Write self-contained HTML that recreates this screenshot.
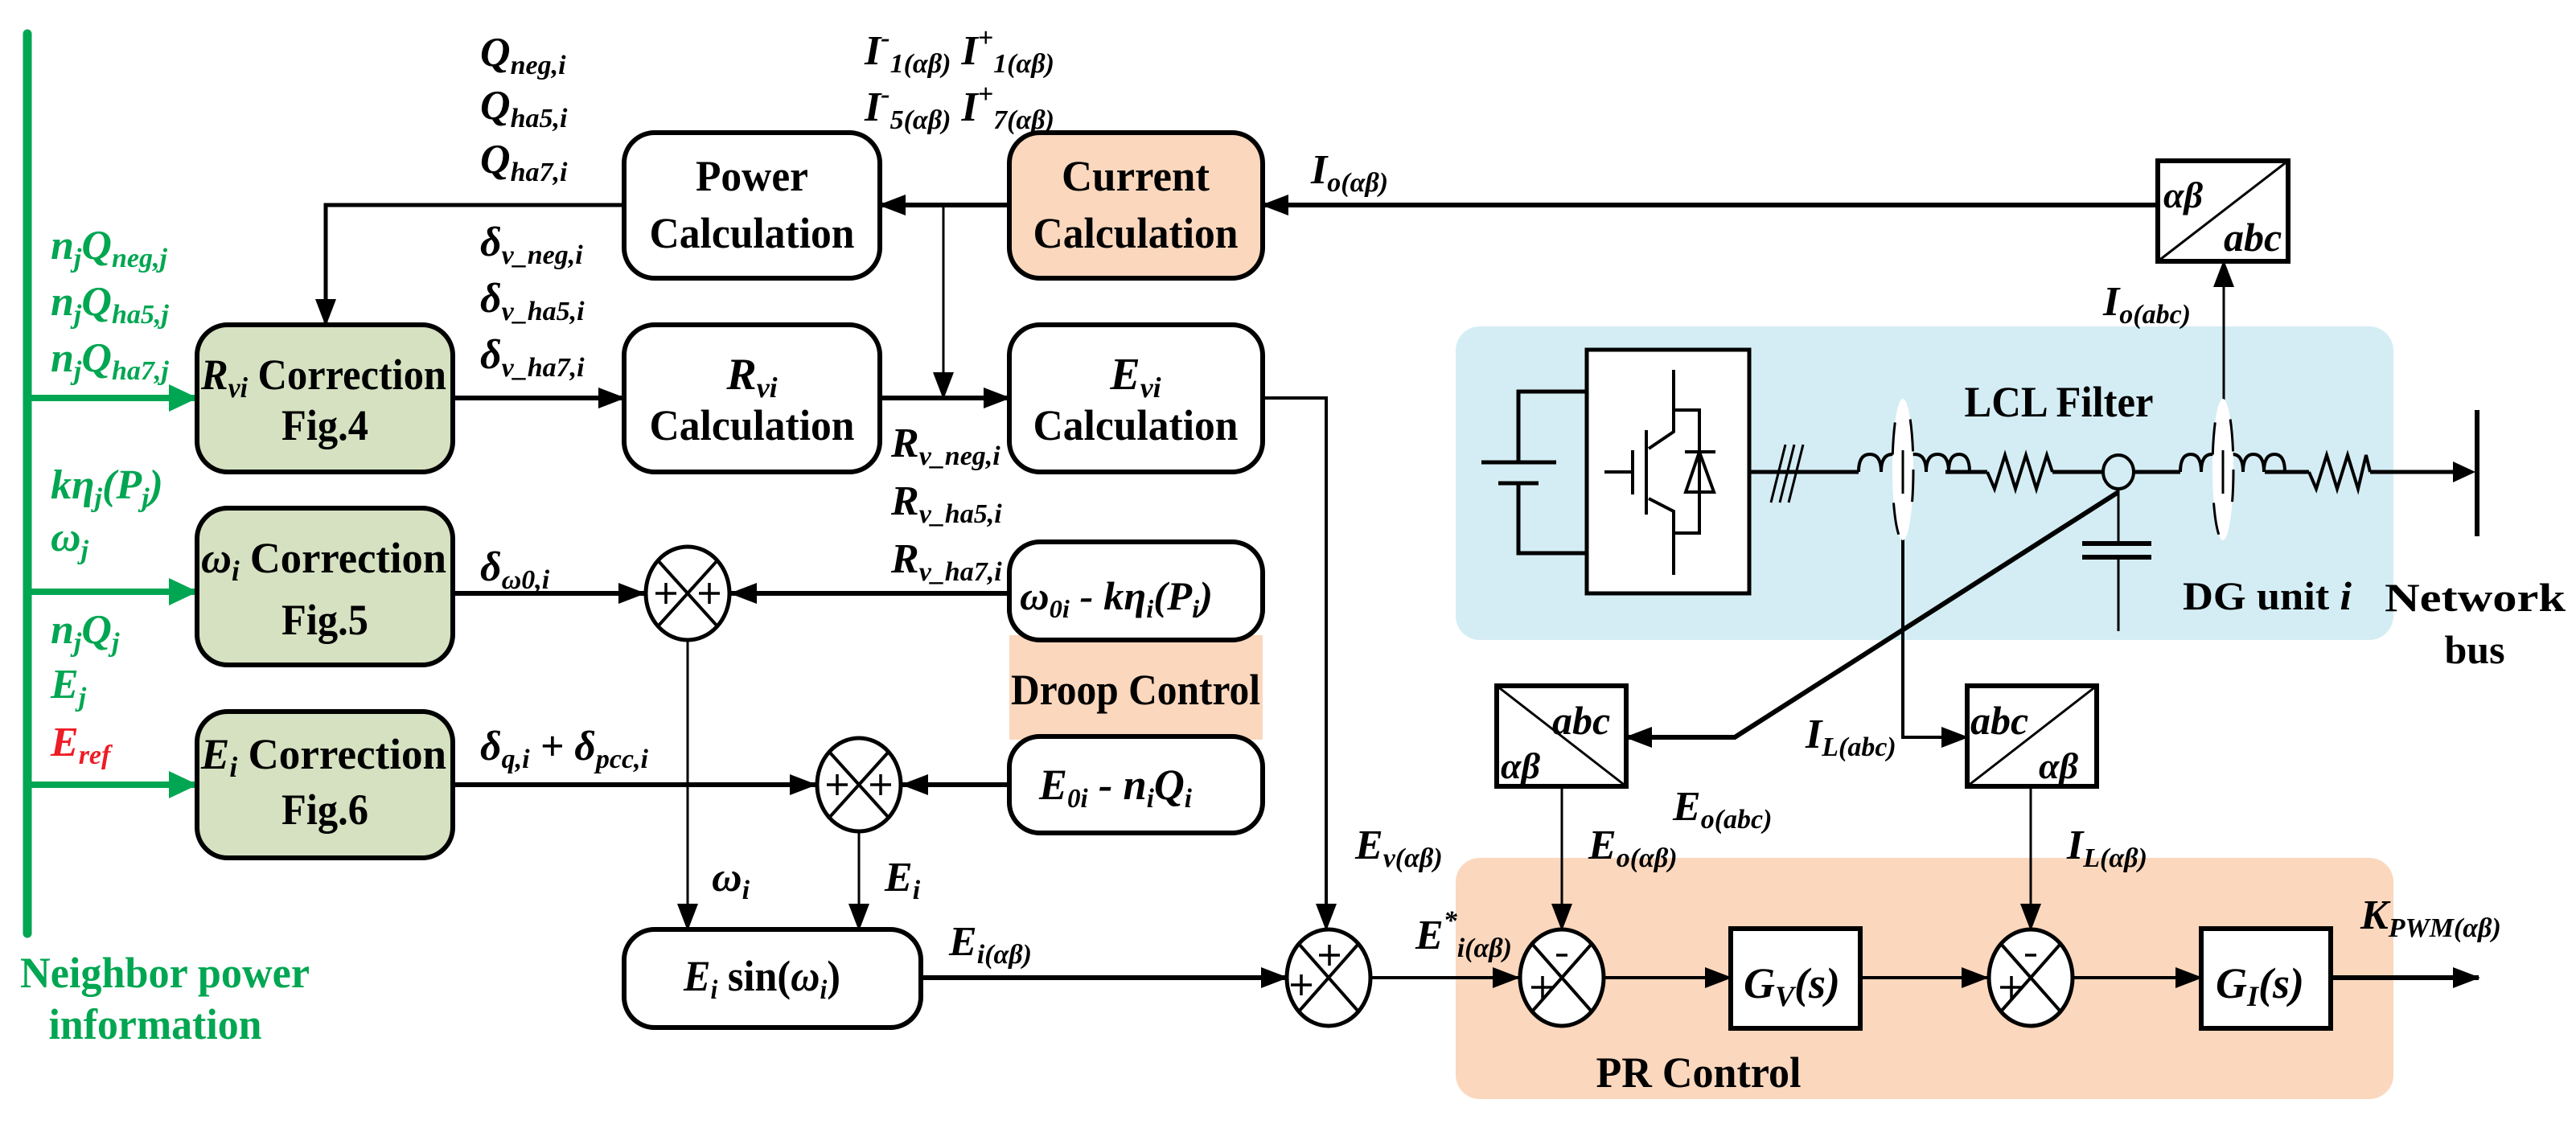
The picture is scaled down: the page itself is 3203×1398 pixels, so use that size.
<!DOCTYPE html>
<html><head><meta charset="utf-8"><style>
html,body{margin:0;padding:0;background:#fff}
svg{display:block;font-family:"Liberation Serif","DejaVu Serif",serif}
text{font-family:"Liberation Serif","DejaVu Serif",serif;font-weight:bold}
.m{font-style:italic;font-size:52px}
.b{font-size:54px}
.g{fill:#00a651;font-style:italic;font-size:52px}
</style></head><body>
<svg width="3203" height="1398" viewBox="0 0 3203 1398" xmlns="http://www.w3.org/2000/svg" font-family="Liberation Serif, DejaVu Serif, serif">
<defs>
<marker id="a" markerUnits="userSpaceOnUse" markerWidth="34" markerHeight="26" refX="32" refY="13" orient="auto"><path d="M0,0 L34,13 L0,26 Z" fill="#000"/></marker>
<marker id="ga" markerUnits="userSpaceOnUse" markerWidth="36" markerHeight="34" refX="34" refY="17" orient="auto"><path d="M0,0 L36,17 L0,34 Z" fill="#00a651"/></marker>
</defs>

<rect x="1810" y="406" width="1166" height="390" rx="30" fill="#d4edf4"/>
<rect x="1810" y="1067" width="1166" height="300" rx="30" fill="#fbd7bd"/>
<rect x="1255" y="790" width="315" height="130" fill="#fbd7bd"/>

<line x1="34" y1="42" x2="34" y2="1161" stroke="#00a651" stroke-width="11" stroke-linecap="round"/>
<g stroke="#00a651" stroke-width="8" marker-end="url(#ga)">
<line x1="34" y1="495" x2="244" y2="495"/>
<line x1="34" y1="736" x2="244" y2="736"/>
<line x1="34" y1="976" x2="244" y2="976"/>
</g>

<g stroke="#000" stroke-width="6">
<rect x="245" y="404" width="318" height="183" rx="38" fill="#d5e1c1"/>
<rect x="245" y="632" width="318" height="195" rx="38" fill="#d5e1c1"/>
<rect x="245" y="885" width="318" height="182" rx="38" fill="#d5e1c1"/>
<rect x="776" y="165" width="318" height="181" rx="38" fill="#fff"/>
<rect x="1255" y="165" width="315" height="181" rx="38" fill="#fbd7bd"/>
<rect x="776" y="404" width="318" height="183" rx="38" fill="#fff"/>
<rect x="1255" y="404" width="315" height="183" rx="38" fill="#fff"/>
<rect x="1255" y="674" width="315" height="122" rx="38" fill="#fff"/>
<rect x="1255" y="916" width="315" height="120" rx="38" fill="#fff"/>
<rect x="776" y="1156" width="369" height="122" rx="38" fill="#fff"/>
<rect x="2152" y="1155" width="161" height="124" fill="#fff"/>
<rect x="2737" y="1155" width="161" height="124" fill="#fff"/>
<rect x="2683" y="200" width="162" height="125" fill="#fff"/>
<rect x="1861" y="853" width="161" height="125" fill="#fff"/>
<rect x="2446" y="853" width="161" height="125" fill="#fff"/>
<rect x="1973" y="435" width="202" height="303" fill="#fff" stroke-width="5"/>
</g>
<g stroke="#000" stroke-width="3">
<line x1="2683" y1="325" x2="2845" y2="200"/>
<line x1="1861" y1="853" x2="2022" y2="978"/>
<line x1="2446" y1="978" x2="2607" y2="853"/>
</g>

<g stroke="#000" stroke-width="6" fill="none" marker-end="url(#a)">
<line x1="1255" y1="255" x2="1094" y2="255"/>
<line x1="2683" y1="255" x2="1570" y2="255"/>
<line x1="563" y1="495" x2="776" y2="495"/>
<line x1="1094" y1="495" x2="1255" y2="495"/>
<line x1="563" y1="738" x2="801" y2="738"/>
<line x1="1255" y1="738" x2="909" y2="738"/>
<line x1="563" y1="976" x2="1014" y2="976"/>
<line x1="1255" y1="976" x2="1122" y2="976"/>
<line x1="1145" y1="1216" x2="1600" y2="1216"/>
<line x1="2898" y1="1216" x2="3082" y2="1216"/>
<polyline points="2634,612 2157,917 2022,917"/>
<polyline points="2366,670 2366,917 2446,917" stroke-width="4"/>
</g>
<g stroke="#000" stroke-width="4" fill="none" marker-end="url(#a)">
<line x1="1704" y1="1216" x2="1888" y2="1216"/>
<line x1="1996" y1="1216" x2="2152" y2="1216"/>
<line x1="2313" y1="1216" x2="2471" y2="1216"/>
<line x1="2579" y1="1216" x2="2737" y2="1216"/>
</g>
<g stroke="#000" stroke-width="3" fill="none" marker-end="url(#a)">
<polyline points="776,255 405,255 405,404" stroke-width="5"/>
<line x1="1173" y1="255" x2="1173" y2="495"/>
<polyline points="1570,495 1649,495 1649,1156" stroke-width="4"/>
<line x1="2765" y1="497" x2="2765" y2="325"/>
<line x1="855" y1="798" x2="855" y2="1156"/>
<line x1="1068" y1="1036" x2="1068" y2="1156"/>
<line x1="1942" y1="978" x2="1942" y2="1156"/>
<line x1="2525" y1="978" x2="2525" y2="1156"/>
</g>

<g stroke="#000" stroke-width="5" fill="#fff">
<ellipse cx="855" cy="738" rx="52" ry="58"/>
<ellipse cx="1068" cy="976" rx="52" ry="58"/>
<ellipse cx="1652" cy="1216" rx="52" ry="60"/>
<ellipse cx="1942" cy="1216" rx="52" ry="60"/>
<ellipse cx="2525" cy="1216" rx="52" ry="60"/>
</g>
<g stroke="#000" stroke-width="4">
<path d="M818,697 L892,779 M892,697 L818,779"/>
<path d="M1031,935 L1105,1017 M1105,935 L1031,1017"/>
<path d="M1615,1174 L1689,1258 M1689,1174 L1615,1258"/>
<path d="M1905,1174 L1979,1258 M1979,1174 L1905,1258"/>
<path d="M2488,1174 L2562,1258 M2562,1174 L2488,1258"/>
</g>
<g stroke="#000" stroke-width="3.5">
<path d="M815,738 h26 M828,725 v26 M869,738 h26 M882,725 v26"/>
<path d="M1028,976 h26 M1041,963 v26 M1082,976 h26 M1095,963 v26"/>
<path d="M1640,1188 h26 M1653,1175 v26 M1605,1225 h26 M1618,1212 v26"/>
<path d="M1904,1228 h28 M1918,1214 v28 M1935,1188 h14"/>
<path d="M2487,1228 h28 M2501,1214 v28 M2518,1188 h14"/>
</g>

<g stroke="#000" stroke-width="5" fill="none">
<polyline points="1973,487 1888,487 1888,575"/>
<polyline points="1973,688 1888,688 1888,601"/>
<line x1="1842" y1="575" x2="1935" y2="575"/>
<line x1="1863" y1="601" x2="1913" y2="601"/>
<g stroke-width="4">
<polyline points="2081,460 2081,537 2050,558"/>
<line x1="2047" y1="535" x2="2047" y2="640"/>
<line x1="2030" y1="560" x2="2030" y2="615"/>
<line x1="1995" y1="587" x2="2030" y2="587"/>
<polyline points="2050,620 2081,636 2081,715"/>
<polyline points="2081,510 2113,510 2113,663 2081,663"/>
<line x1="2095" y1="562" x2="2133" y2="562"/>
<polygon points="2113,562 2096,612 2131,612"/>
</g>
<line x1="2175" y1="587" x2="2311" y2="587"/>
<g stroke-width="3"><line x1="2202" y1="625" x2="2220" y2="553"/><line x1="2213" y1="625" x2="2231" y2="553"/><line x1="2224" y1="625" x2="2242" y2="553"/></g>
<path d="M2311,587 q0,-22 14,-22 q14,0 14,22 q0,-22 14,-22 q14,0 14,22 q0,-22 14,-22 q14,0 14,22 q0,-22 14,-22 q14,0 14,22 q0,-22 13,-22 q13,0 13,22" stroke-width="4"/>
<line x1="2419" y1="587" x2="2471" y2="587"/>
<polyline points="2471,587 2480,608 2493,566 2506,608 2519,566 2532,608 2545,566 2552,587" stroke-width="4"/>
<line x1="2552" y1="587" x2="2615" y2="587"/>
<line x1="2653" y1="587" x2="2711" y2="587"/>
<path d="M2711,587 q0,-22 13,-22 q13,0 13,22 q0,-22 13,-22 q13,0 13,22 q0,-22 13,-22 q13,0 13,22 q0,-22 13,-22 q13,0 13,22 q0,-22 13,-22 q13,0 13,22" stroke-width="4"/>
<line x1="2816" y1="587" x2="2871" y2="587"/>
<polyline points="2871,587 2880,608 2893,566 2906,608 2919,566 2932,608 2942,566 2947,587" stroke-width="4"/>
<line x1="2947" y1="587" x2="3050" y2="587"/>
<ellipse cx="2634" cy="587" rx="19" ry="21" stroke-width="4"/>
<line x1="2634" y1="608" x2="2634" y2="676" stroke-width="3"/>
<line x1="2634" y1="693" x2="2634" y2="785" stroke-width="3"/>
<line x1="2589" y1="676" x2="2675" y2="676" stroke-width="6"/>
<line x1="2589" y1="693" x2="2675" y2="693" stroke-width="6"/>
<line x1="3080" y1="510" x2="3080" y2="667" stroke-width="6"/>
</g>
<path d="M3050,574 L3078,587 L3050,600 Z" fill="#000"/>
<ellipse cx="2366" cy="584" rx="13" ry="88" fill="#fff" stroke="#000" stroke-width="3" stroke-dasharray="40,60"/>
<ellipse cx="2764" cy="584" rx="13" ry="88" fill="#fff" stroke="#000" stroke-width="3" stroke-dasharray="40,60"/>
<line x1="2366" y1="560" x2="2366" y2="614" stroke="#000" stroke-width="3"/>
<line x1="2764" y1="560" x2="2764" y2="614" stroke="#000" stroke-width="3"/>

<g text-anchor="middle">
<text x="935" y="237" class="b" textLength="140" lengthAdjust="spacingAndGlyphs">Power</text>
<text x="935" y="308" class="b" textLength="255" lengthAdjust="spacingAndGlyphs">Calculation</text>
<text x="1412" y="237" class="b" textLength="184" lengthAdjust="spacingAndGlyphs">Current</text>
<text x="1412" y="308" class="b" textLength="255" lengthAdjust="spacingAndGlyphs">Calculation</text>
<text x="935" y="547" class="b" textLength="255" lengthAdjust="spacingAndGlyphs">Calculation</text>
<text x="1412" y="547" class="b" textLength="255" lengthAdjust="spacingAndGlyphs">Calculation</text>
<text x="404" y="547" class="b" textLength="108" lengthAdjust="spacingAndGlyphs">Fig.4</text>
<text x="404" y="789" class="b" textLength="108" lengthAdjust="spacingAndGlyphs">Fig.5</text>
<text x="404" y="1025" class="b" textLength="108" lengthAdjust="spacingAndGlyphs">Fig.6</text>
<text x="1412" y="876" class="b" textLength="310" lengthAdjust="spacingAndGlyphs">Droop Control</text>
<text x="2560" y="518" class="b" font-size="48" textLength="235" lengthAdjust="spacingAndGlyphs">LCL Filter</text>
<text x="2112" y="1352" class="b" font-size="50" textLength="255" lengthAdjust="spacingAndGlyphs">PR Control</text>
<text x="3077" y="825" font-size="50">bus</text>
</g>
<text x="2965" y="760" font-size="50" textLength="225" lengthAdjust="spacingAndGlyphs">Network</text>
<text x="2714" y="758" font-size="50" textLength="210" lengthAdjust="spacingAndGlyphs">DG unit <tspan font-style="italic">i</tspan></text>
<text x="935" y="484" text-anchor="middle" font-style="italic" font-size="56"><tspan>R</tspan><tspan font-size="36" dy="10">vi</tspan></text>
<text x="1412" y="484" text-anchor="middle" font-style="italic" font-size="56"><tspan>E</tspan><tspan font-size="36" dy="10">vi</tspan></text>
<text x="250" y="484" font-size="54" textLength="305" lengthAdjust="spacingAndGlyphs"><tspan font-style="italic">R</tspan><tspan font-style="italic" font-size="36" dy="10">vi</tspan><tspan dy="-10"> Correction</tspan></text>
<text x="250" y="712" font-size="54" textLength="305" lengthAdjust="spacingAndGlyphs"><tspan font-style="italic">ω</tspan><tspan font-style="italic" font-size="36" dy="10">i</tspan><tspan dy="-10"> Correction</tspan></text>
<text x="250" y="956" font-size="54" textLength="305" lengthAdjust="spacingAndGlyphs"><tspan font-style="italic">E</tspan><tspan font-style="italic" font-size="36" dy="10">i</tspan><tspan dy="-10"> Correction</tspan></text>
<text x="1268" y="758" font-style="italic" font-size="50" textLength="240" lengthAdjust="spacingAndGlyphs">ω<tspan font-size="32" dy="10">0i</tspan><tspan dy="-10"> - kη</tspan><tspan font-size="32" dy="10">i</tspan><tspan dy="-10">(P</tspan><tspan font-size="32" dy="10">i</tspan><tspan dy="-10">)</tspan></text>
<text x="1292" y="994" font-style="italic" font-size="54" textLength="190" lengthAdjust="spacingAndGlyphs">E<tspan font-size="34" dy="10">0i</tspan><tspan dy="-10"> - n</tspan><tspan font-size="34" dy="10">i</tspan><tspan dy="-10">Q</tspan><tspan font-size="34" dy="10">i</tspan></text>
<text x="850" y="1232" font-style="italic" font-size="54" textLength="195" lengthAdjust="spacingAndGlyphs">E<tspan font-size="34" dy="10">i</tspan><tspan dy="-10" font-style="normal"> sin(</tspan><tspan>ω</tspan><tspan font-size="34" dy="10">i</tspan><tspan dy="-10" font-style="normal">)</tspan></text>
<text x="2168" y="1241" font-style="italic" font-size="54">G<tspan font-size="36" dy="10">V</tspan><tspan dy="-10">(s)</tspan></text>
<text x="2755" y="1241" font-style="italic" font-size="54">G<tspan font-size="36" dy="10">I</tspan><tspan dy="-10">(s)</tspan></text>
<text x="2690" y="258" font-style="italic" font-size="46">αβ</text><text x="2765" y="312" font-style="italic" font-size="50">abc</text>
<text x="1930" y="913" font-style="italic" font-size="50">abc</text><text x="1866" y="968" font-style="italic" font-size="46">αβ</text>
<text x="2450" y="913" font-style="italic" font-size="50">abc</text><text x="2535" y="968" font-style="italic" font-size="46">αβ</text>

<g class="m">
<text x="597" y="82">Q<tspan font-size="34" dy="10">neg,i</tspan></text>
<text x="597" y="148">Q<tspan font-size="34" dy="10">ha5,i</tspan></text>
<text x="597" y="215">Q<tspan font-size="34" dy="10">ha7,i</tspan></text>
<text x="1075" y="80">I<tspan font-size="34" dy="-22">-</tspan><tspan font-size="34" dy="32">1(αβ)</tspan><tspan dy="-10"> I</tspan><tspan font-size="34" dy="-22">+</tspan><tspan font-size="34" dy="32">1(αβ)</tspan></text>
<text x="1075" y="150">I<tspan font-size="34" dy="-22">-</tspan><tspan font-size="34" dy="32">5(αβ)</tspan><tspan dy="-10"> I</tspan><tspan font-size="34" dy="-22">+</tspan><tspan font-size="34" dy="32">7(αβ)</tspan></text>
<text x="597" y="318">δ<tspan font-size="34" dy="10">v_neg,i</tspan></text>
<text x="597" y="388">δ<tspan font-size="34" dy="10">v_ha5,i</tspan></text>
<text x="597" y="458">δ<tspan font-size="34" dy="10">v_ha7,i</tspan></text>
<text x="1108" y="568">R<tspan font-size="34" dy="10">v_neg,i</tspan></text>
<text x="1108" y="640">R<tspan font-size="34" dy="10">v_ha5,i</tspan></text>
<text x="1108" y="712">R<tspan font-size="34" dy="10">v_ha7,i</tspan></text>
<text x="597" y="722">δ<tspan font-size="34" dy="10">ω0,i</tspan></text>
<text x="597" y="945">δ<tspan font-size="34" dy="10">q,i</tspan><tspan dy="-10"> + δ</tspan><tspan font-size="34" dy="10">pcc,i</tspan></text>
<text x="885" y="1108">ω<tspan font-size="34" dy="10">i</tspan></text>
<text x="1100" y="1108">E<tspan font-size="34" dy="10">i</tspan></text>
<text x="1180" y="1188">E<tspan font-size="34" dy="10">i(αβ)</tspan></text>
<text x="1685" y="1068">E<tspan font-size="34" dy="10">v(αβ)</tspan></text>
<text x="1760" y="1180">E<tspan font-size="34" dy="-24">*</tspan><tspan font-size="34" dy="34">i(αβ)</tspan></text>
<text x="1975" y="1068">E<tspan font-size="34" dy="10">o(αβ)</tspan></text>
<text x="2080" y="1020">E<tspan font-size="34" dy="10">o(abc)</tspan></text>
<text x="2245" y="930">I<tspan font-size="34" dy="10">L(abc)</tspan></text>
<text x="2570" y="1068">I<tspan font-size="34" dy="10">L(αβ)</tspan></text>
<text x="2935" y="1155">K<tspan font-size="34" dy="10">PWM(αβ)</tspan></text>
<text x="1630" y="228">I<tspan font-size="34" dy="10">o(αβ)</tspan></text>
<text x="2615" y="392">I<tspan font-size="34" dy="10">o(abc)</tspan></text>
</g>

<g class="g">
<text x="63" y="322">n<tspan font-size="34" dy="10">j</tspan><tspan dy="-10">Q</tspan><tspan font-size="34" dy="10">neg,j</tspan></text>
<text x="63" y="392">n<tspan font-size="34" dy="10">j</tspan><tspan dy="-10">Q</tspan><tspan font-size="34" dy="10">ha5,j</tspan></text>
<text x="63" y="462">n<tspan font-size="34" dy="10">j</tspan><tspan dy="-10">Q</tspan><tspan font-size="34" dy="10">ha7,j</tspan></text>
<text x="63" y="620">kη<tspan font-size="34" dy="10">j</tspan><tspan dy="-10">(P</tspan><tspan font-size="34" dy="10">j</tspan><tspan dy="-10">)</tspan></text>
<text x="63" y="685">ω<tspan font-size="34" dy="10">j</tspan></text>
<text x="63" y="800">n<tspan font-size="34" dy="10">j</tspan><tspan dy="-10">Q</tspan><tspan font-size="34" dy="10">j</tspan></text>
<text x="63" y="868">E<tspan font-size="34" dy="10">j</tspan></text>
<text x="63" y="940" fill="#ee1c25">E<tspan font-size="34" dy="10">ref</tspan></text>
</g>
<text x="205" y="1228" text-anchor="middle" fill="#00a651" font-size="54" textLength="360" lengthAdjust="spacingAndGlyphs">Neighbor power</text>
<text x="193" y="1292" text-anchor="middle" fill="#00a651" font-size="54" textLength="265" lengthAdjust="spacingAndGlyphs">information</text>
</svg>
</body></html>
